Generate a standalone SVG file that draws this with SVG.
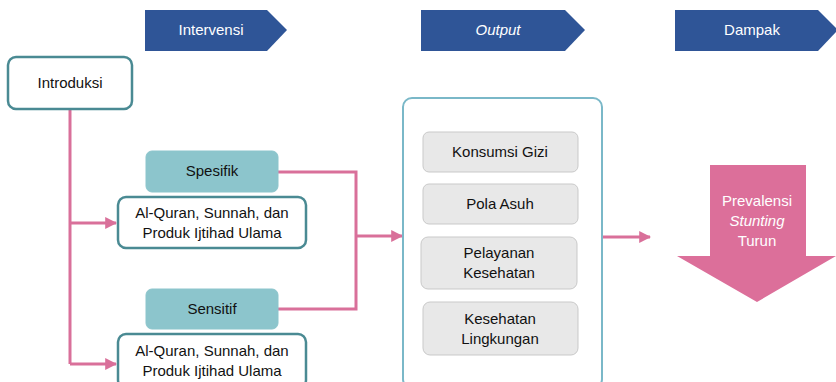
<svg xmlns="http://www.w3.org/2000/svg" width="836" height="382" viewBox="0 0 836 382">
<style>
text{font-family:"Liberation Sans",Arial,sans-serif;font-size:15px;fill:#111;text-anchor:middle}
.ban{fill:#2f5597}
.bt{fill:#fff}
.wb{fill:#fff;stroke:#4a8a93;stroke-width:2.5}
.tb{fill:#8cc5cc;stroke:#8cc5cc;stroke-width:1}
.gb{fill:#e8e8e8;stroke:#c9c9c9;stroke-width:1}
.ln{fill:none;stroke:#d9709a;stroke-width:3}
.it{font-style:italic}
</style>
<defs>
<marker id="ah" viewBox="0 0 10 10" refX="9" refY="5" markerWidth="4" markerHeight="4" orient="auto" markerUnits="strokeWidth">
<path d="M0,0 L10,5 L0,10 z" fill="#d9709a"/>
</marker>
</defs>
<g id="banner-intervensi">
<path class="ban" d="M145,10 H267 L287,30 L267,51 H145 Z"/>
<text class="bt" x="211" y="35">Intervensi</text>
</g>
<g id="banner-output">
<path class="ban" d="M421,10 H565 L585,30 L565,51 H421 Z"/>
<text class="bt it" x="498" y="35">Output</text>
</g>
<g id="banner-dampak">
<path class="ban" d="M675,10 H818 L838,30 L818,51 H675 Z"/>
<text class="bt" x="752" y="35">Dampak</text>
</g>
<g id="connectors">
<path class="ln" d="M70,109 V364"/>
<path class="ln" d="M70,223 H116" marker-end="url(#ah)"/>
<path class="ln" d="M70,364 H116" marker-end="url(#ah)"/>
<path class="ln" d="M278,172 H356 V309 H278"/>
<path class="ln" d="M356,236 H402" marker-end="url(#ah)"/>
<path class="ln" d="M602,237 H650" marker-end="url(#ah)"/>
</g>
<g id="introduksi">
<rect class="wb" x="8" y="57" width="124" height="52" rx="8"/>
<text x="70" y="88">Introduksi</text>
</g>
<g id="spesifik">
<rect class="tb" x="146" y="151" width="132" height="41" rx="6"/>
<text x="212" y="176">Spesifik</text>
</g>
<g id="alquran-1">
<rect class="wb" x="118" y="197" width="188" height="51" rx="8"/>
<text x="212" y="218">Al-Quran, Sunnah, dan</text>
<text x="212" y="238">Produk Ijtihad Ulama</text>
</g>
<g id="sensitif">
<rect class="tb" x="146" y="289" width="132" height="40" rx="6"/>
<text x="212" y="314">Sensitif</text>
</g>
<g id="alquran-2">
<rect class="wb" x="118" y="334" width="188" height="54" rx="8"/>
<text x="212" y="356">Al-Quran, Sunnah, dan</text>
<text x="212" y="376">Produk Ijtihad Ulama</text>
</g>
<g id="output-container">
<rect x="403" y="98" width="199" height="290" rx="9" fill="#fff" stroke="#7ab8c8" stroke-width="2"/>
</g>
<g id="konsumsi-gizi">
<rect class="gb" x="423" y="132" width="155" height="40" rx="6"/>
<text x="500" y="157">Konsumsi Gizi</text>
</g>
<g id="pola-asuh">
<rect class="gb" x="423" y="184" width="155" height="40" rx="6"/>
<text x="500" y="209">Pola Asuh</text>
</g>
<g id="pelayanan-kesehatan">
<rect class="gb" x="421" y="237" width="156" height="52" rx="7"/>
<text x="499" y="258">Pelayanan</text>
<text x="499" y="278">Kesehatan</text>
</g>
<g id="kesehatan-lingkungan">
<rect class="gb" x="423" y="302" width="155" height="53" rx="7"/>
<text x="500" y="324">Kesehatan</text>
<text x="500" y="344">Lingkungan</text>
</g>
<g id="prevalensi">
<path d="M710,165 H806 V256 H836 L757,302 L677,256 H710 Z" fill="#dc6f9a"/>
<text class="bt" x="757" y="206">Prevalensi</text>
<text class="bt it" x="757" y="226">Stunting</text>
<text class="bt" x="757" y="246">Turun</text>
</g>
</svg>
